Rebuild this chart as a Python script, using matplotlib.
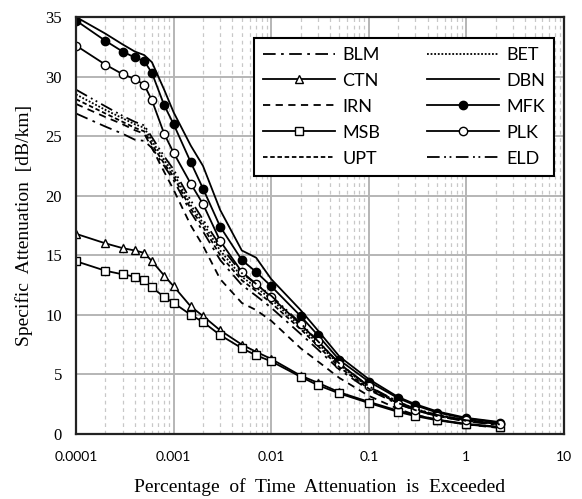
import numpy as np
import matplotlib
matplotlib.use("Agg")
import matplotlib.pyplot as plt
from matplotlib.ticker import LogLocator, FixedLocator, NullFormatter

# ---- data ----
percent = [1e-4, 2e-4, 3e-4, 4e-4, 5e-4, 6e-4, 8e-4, 1e-3, 1.5e-3, 2e-3, 3e-3,
           5e-3, 7e-3, 1e-2, 2e-2, 3e-2, 5e-2, 0.1, 0.2, 0.3, 0.5, 1.0, 2.2]

BLM = [26.9, 25.8, 25.2, 24.7, 24.6, 24.0, 22.5, 21.3, 18.6, 17.0, 14.6,
       12.5, 11.6, 10.6, 8.4, 7.1, 5.4, 3.7, 2.5, 2.0, 1.5, 1.05, 0.75]
BET = [28.5, 27.2, 26.5, 26.0, 25.7, 24.6, 23.0, 21.9, 19.2, 17.7, 15.4,
       13.2, 12.3, 11.3, 9.0, 7.6, 5.8, 3.9, 2.7, 2.1, 1.6, 1.15, 0.85]
CTN = [16.8, 16.0, 15.6, 15.4, 15.2, 14.5, 13.3, 12.4, 10.7, 9.9, 8.7,
       7.5, 6.9, 6.3, 4.9, 4.3, 3.5, 2.7, 1.95, 1.6, 1.2, 0.85, 0.6]
DBN = [35.0, 33.6, 32.7, 32.1, 31.8, 31.2, 28.9, 27.0, 24.2, 22.5, 18.8,
       15.4, 14.8, 13.0, 10.4, 8.7, 6.5, 4.6, 3.1, 2.5, 1.9, 1.35, 1.0]
IRN = [27.7, 26.6, 26.0, 25.5, 25.2, 24.0, 22.0, 20.5, 17.5, 15.8, 13.0,
       11.0, 10.4, 9.5, 7.2, 6.1, 4.7, 3.2, 2.1, 1.6, 1.2, 0.8, 0.5]
MFK = [34.7, 33.0, 32.1, 31.6, 31.3, 30.3, 27.6, 26.0, 22.8, 20.6, 17.4,
       14.6, 13.6, 12.4, 9.9, 8.3, 6.2, 4.4, 3.0, 2.4, 1.8, 1.3, 0.95]
MSB = [14.5, 13.7, 13.4, 13.2, 12.9, 12.3, 11.5, 11.0, 10.0, 9.4, 8.3,
       7.2, 6.6, 6.1, 4.8, 4.1, 3.4, 2.6, 1.85, 1.5, 1.15, 0.8, 0.55]
PLK = [32.6, 31.0, 30.2, 29.8, 29.3, 28.0, 25.2, 23.6, 21.0, 19.3, 16.2,
       13.6, 12.6, 11.5, 9.2, 7.8, 5.9, 4.0, 2.55, 2.0, 1.55, 1.2, 0.8]
UPT = [28.1, 26.9, 26.2, 25.7, 25.4, 24.3, 22.7, 21.6, 18.9, 17.4, 15.0,
       12.9, 12.0, 11.0, 8.8, 7.4, 5.6, 3.8, 2.6, 2.0, 1.5, 1.1, 0.8]
ELD = [28.9, 27.5, 26.7, 26.2, 25.9, 24.9, 23.3, 22.2, 19.6, 18.0, 15.8,
       13.5, 12.6, 11.6, 9.3, 7.8, 5.9, 4.0, 2.7, 2.1, 1.6, 1.15, 0.9]

x_ticks = [0.0001, 0.001, 0.01, 0.1, 1, 10]
x_tick_labels = ["0.0001", "0.001", "0.01", "0.1", "1", "10"]
y_ticks = [0, 5, 10, 15, 20, 25, 30, 35]

# ---- figure ----
fig = plt.figure(figsize=(5.82, 4.99), dpi=100)
ax = fig.add_axes([0.1306, 0.1303, 0.8385, 0.8357])

lw = 1.3
ms = 6
styles = {
    "BLM": dict(linestyle=(0, (7, 3, 1.5, 3))),
    "BET": dict(linestyle=(0, (1, 1))),
    "CTN": dict(linestyle="-", marker="^", mfc="white", mec="black", ms=ms),
    "DBN": dict(linestyle="-"),
    "IRN": dict(linestyle=(0, (4, 3))),
    "MFK": dict(linestyle="-", marker="o", mfc="black", mec="black", ms=ms),
    "MSB": dict(linestyle="-", marker="s", mfc="white", mec="black", ms=ms),
    "PLK": dict(linestyle="-", marker="o", mfc="white", mec="black", ms=ms),
    "UPT": dict(linestyle=(0, (2.5, 1.5))),
    "ELD": dict(linestyle=(0, (7, 2.5, 1, 2, 1, 2.5))),
}
data = {"BLM": BLM, "BET": BET, "CTN": CTN, "DBN": DBN, "IRN": IRN,
        "MFK": MFK, "MSB": MSB, "PLK": PLK, "UPT": UPT, "ELD": ELD}
handles = {}
for name, vals in data.items():
    (h,) = ax.plot(percent, vals, color="black", lw=lw, label=name, mew=1.0,
                   **styles[name])
    handles[name] = h

ax.set_xscale("log")
ax.set_xlim(1e-4, 10)
ax.set_ylim(0, 35)
ax.xaxis.set_major_locator(FixedLocator(x_ticks))
ax.set_xticks(x_ticks)
ax.set_xticklabels(x_tick_labels, fontfamily="Lato", fontsize=10)
ax.xaxis.set_minor_locator(LogLocator(base=10, subs=np.arange(2, 10)))
ax.xaxis.set_minor_formatter(NullFormatter())
ax.set_yticks(y_ticks)
ax.set_yticklabels([str(v) for v in y_ticks], fontfamily="Liberation Serif", fontsize=12)

ax.tick_params(axis="both", which="both", length=0)
ax.tick_params(axis="x", pad=12)
ax.tick_params(axis="y", pad=10)

ax.grid(True, which="major", color="#b5b5b5", lw=1.4, linestyle="-")
ax.grid(True, which="minor", axis="x", color="#c8c8c8", lw=0.9, linestyle=(0, (3, 3)))
ax.set_axisbelow(True)

for sp in ax.spines.values():
    sp.set_color("#222222")
    sp.set_linewidth(1.6)

ax.set_xlabel("Percentage  of  Time  Attenuation  is  Exceeded",
              fontfamily="Liberation Serif", fontsize=14, labelpad=11)
ax.set_ylabel("Specific  Attenuation  [dB/km]",
              fontfamily="Liberation Serif", fontsize=14, labelpad=9)

order = ["BLM", "CTN", "IRN", "MSB", "UPT", "BET", "DBN", "MFK", "PLK", "ELD"]
leg = ax.legend([handles[n] for n in order], order,
                ncol=2, loc="upper right", bbox_to_anchor=(0.98, 0.95),
                borderaxespad=0, frameon=True, fancybox=False,
                prop={"family": "Lato", "size": 13},
                handlelength=4.0, handletextpad=0.4, columnspacing=2.6,
                labelspacing=0.55, borderpad=0.5)
leg.get_frame().set_edgecolor("black")
leg.get_frame().set_linewidth(1.5)
leg.get_frame().set_alpha(1)

fig.savefig("out.png", dpi=100)
